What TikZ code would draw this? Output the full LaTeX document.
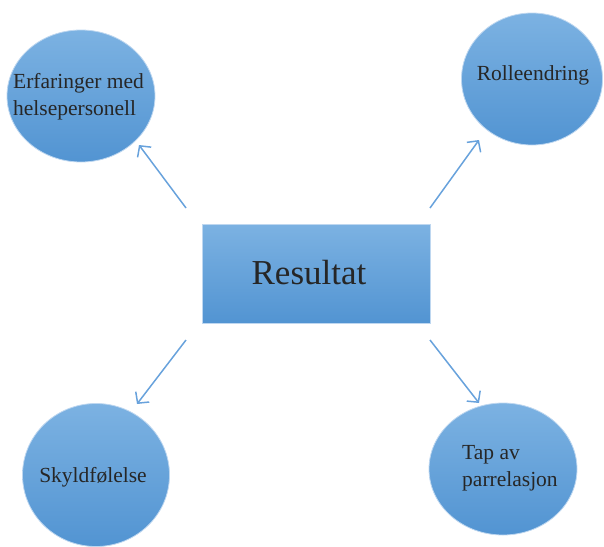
\documentclass[tikz,border=0pt]{standalone}
\usepackage{fontspec}
\setmainfont{Liberation Serif}
\usetikzlibrary{shapes.geometric,arrows.meta}
\definecolor{topblue}{RGB}{124,178,226}
\definecolor{botblue}{RGB}{82,148,210}
\definecolor{edgeblue}{RGB}{190,215,240}
\definecolor{arrblue}{RGB}{104,162,220}
\definecolor{txt}{RGB}{38,38,38}
\tikzset{
  bubble/.style={ellipse, top color=topblue, bottom color=botblue, draw=edgeblue, line width=0.8pt, inner sep=0pt},
  box/.style={rectangle, top color=topblue, bottom color=botblue, draw=edgeblue, line width=0.8pt, inner sep=0pt},
  lbl/.style={text=txt, font=\fontsize{21.5}{27}\selectfont, inner sep=0pt},
  arr/.style={draw=arrblue, line width=1.5pt, -{Straight Barb[length=8pt,width=17pt]}}
}
\begin{document}
\begin{tikzpicture}[x=1pt,y=-1pt]
\useasboundingbox (0,0) rectangle (604,546);
\node[bubble, minimum width=148pt, minimum height=132pt] (tl) at (81,96) {};
\node[bubble, minimum width=141pt, minimum height=132pt] (tr) at (532,79) {};
\node[bubble, minimum width=147pt, minimum height=143pt] (bl) at (96,475) {};
\node[bubble, minimum width=148pt, minimum height=132pt] (br) at (503,469) {};
\node[box, minimum width=228pt, minimum height=99pt] (res) at (316,273.5) {};
\node[text=txt, font=\fontsize{35}{40}\selectfont, inner sep=0pt, anchor=base] (restxt) at (309,284) {Resultat};
\node[lbl, align=left, anchor=base west] (tltxt) at (13,115) {Erfaringer med\\helsepersonell};
\node[lbl, anchor=base] (trtxt) at (533,80) {Rolleendring};
\node[lbl, anchor=base] (bltxt) at (93,482) {Skyldfølelse};
\node[lbl, align=left, anchor=base west] (brtxt) at (462,486) {Tap av\\parrelasjon};
\coordinate (s1) at (186,208); \coordinate (e1) at (139,145);
\coordinate (s2) at (430,208); \coordinate (e2) at (479,140);
\coordinate (s3) at (186,340); \coordinate (e3) at (137,404);
\coordinate (s4) at (430,340); \coordinate (e4) at (479,403);
\draw[arr] (s1) -- (e1);
\draw[arr] (s2) -- (e2);
\draw[arr] (s3) -- (e3);
\draw[arr] (s4) -- (e4);
\end{tikzpicture}
\end{document}
